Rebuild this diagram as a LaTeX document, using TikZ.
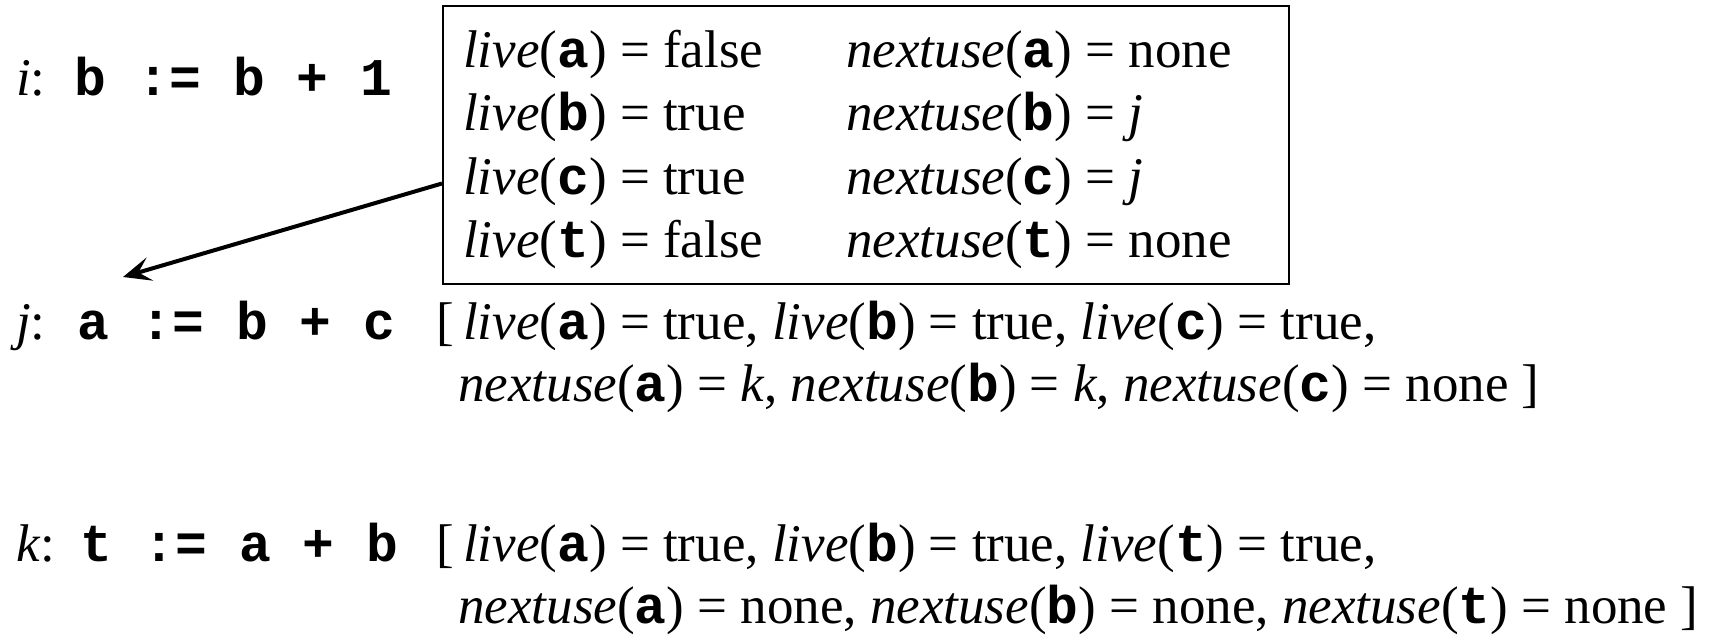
\documentclass[tikz,border=0pt]{standalone}
\usepackage{fontspec}
\setmainfont{Liberation Serif}
\setmonofont{Liberation Mono}
\usetikzlibrary{arrows.meta,positioning}
\newcommand{\cv}[1]{{\ttfamily\bfseries #1}}
\newcommand{\live}[1]{\textit{live}(\cv{#1})}
\newcommand{\nextuse}[1]{\textit{nextuse}(\cv{#1})}
\newcommand{\firstcol}[1]{\makebox[383pt][l]{#1}}
\tikzset{
  txt/.style={inner sep=0pt, anchor=base west, font=\fontsize{53}{63.5}\selectfont},
  code/.style={txt, font=\fontsize{53}{63.5}\selectfont\ttfamily\bfseries},
  infobox/.style={draw, line width=2pt, anchor=north west, inner sep=0pt,
    minimum width=846pt, minimum height=278pt},
  flow/.style={-{Stealth[length=28pt, width=24pt, inset=12pt]}, line width=4pt},
}
\begin{document}
\begin{tikzpicture}[x=1pt, y=-1pt]
\useasboundingbox (0,0) rectangle (1717,636);

% statement i and what holds after it
\node[txt] (ilbl) at (16,96) {\textit{i}:};
\node[code] (icode) at (74,96) {b := b + 1};
\node[infobox] (state) at (442,5.5) {};
\node[txt] (rows) at (463,67.5) {%
  \begin{tabular}[t]{@{}l@{}l@{}}
    \firstcol{\live{a} = false} & \nextuse{a} = none \\
    \firstcol{\live{b} = true}  & \nextuse{b} = \textit{j} \\
    \firstcol{\live{c} = true}  & \nextuse{c} = \textit{j} \\
    \firstcol{\live{t} = false} & \nextuse{t} = none
  \end{tabular}};

% statement j
\node[txt] (jlbl) at (16,340) {\textit{j}:};
\node[code] (jcode) at (77,340) {a := b + c};
\node[txt] (jbr) at (436,340) {[};
\node[txt] (jann1) at (463,340) {\live{a} = true, \live{b} = true, \live{c} = true,};
\node[txt] (jann2) at (458,402) {\nextuse{a} = \textit{k}, \nextuse{b} = \textit{k}, \nextuse{c} = none ]};

% statement k
\node[txt] (klbl) at (16,561) {\textit{k}:};
\node[code] (kcode) at (80,561) {t := a + b};
\node[txt] (kbr) at (436,561) {[};
\node[txt] (kann1) at (463,561) {\live{a} = true, \live{b} = true, \live{t} = true,};
\node[txt] (kann2) at (458,623) {\nextuse{a} = none, \nextuse{b} = none, \nextuse{t} = none ]};

\coordinate (jtip) at (123,277);
\draw[flow] ([yshift=-38pt]state.west) -- (jtip);
\end{tikzpicture}
\end{document}
